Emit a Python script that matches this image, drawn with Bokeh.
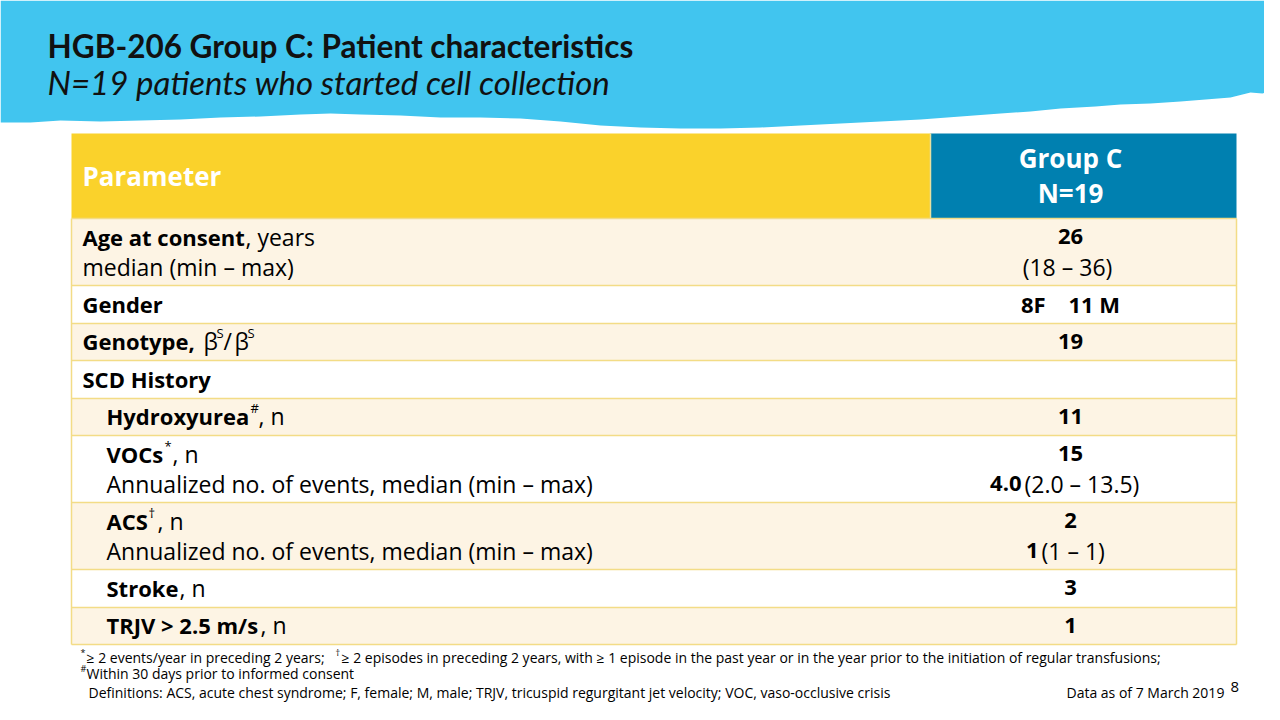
from bokeh.plotting import figure
from bokeh.models import Range1d, ColumnDataSource
from bokeh.core.properties import value
from bokeh.embed import file_html
from bokeh.resources import INLINE

# ---------------- data ----------------
title_text = "HGB-206 Group C: Patient characteristics"
subtitle_text = "N=19 patients who started cell collection"
header_param = "Parameter"
header_group = ["Group C", "N=19"]

# first line of each parameter cell: (text, style) runs
param_line1 = [
    [("Age at consent", "b"), (", years", "n")],
    [("Gender", "b")],
    [("Genotype,", "b"), ("β", "n"), ("S", "sup"), ("/", "n"), ("β", "n"), ("S", "sup")],
    [("SCD History", "b")],
    [("Hydroxyurea", "b"), ("#", "sup"), (", n", "n")],
    [("VOCs", "b"), ("*", "sup"), (", n", "n")],
    [("ACS", "b"), ("†", "sup"), (", n", "n")],
    [("Stroke", "b"), (", n", "n")],
    [("TRJV > 2.5 m/s", "b"), (", n", "n")],
]
param_line2 = ["median (min – max)", "", "", "", "",
               "Annualized no. of events, median (min – max)",
               "Annualized no. of events, median (min – max)", "", ""]
value_line1 = ["26", "8F    11 M", "19", "", "11", "15", "2", "3", "1"]
value_line2_bold = ["", "", "", "", "", "4.0", "1", "", ""]
value_line2_rest = ["(18 – 36)", "", "", "", "", "(2.0 – 13.5)", "(1 – 1)", "", ""]

foot1 = [("*", "sup"), ("≥ 2 events/year in preceding 2 years; ", "n"), ("†", "sup"),
         ("≥ 2 episodes in preceding 2 years, with ≥ 1 episode in the past year or in the year prior to the initiation of regular transfusions;", "n")]
foot2 = [("#", "sup"), ("Within 30 days prior to informed consent", "n")]
definitions = "Definitions: ACS, acute chest syndrome;  F, female; M, male; TRJV, tricuspid regurgitant jet velocity; VOC, vaso-occlusive crisis"
data_date = "Data as of 7 March 2019"
page_no = "8"

# ---------------- layout ----------------
row_top = [218, 285, 323, 360, 398, 435, 502, 569, 607]
row_bot = row_top[1:] + [644]
row_fill = ["#FDF4E4", "#FFFFFF", "#FDF4E4", "#FFFFFF", "#FDF4E4", "#FFFFFF", "#FDF4E4", "#FFFFFF", "#FDF4E4"]
run_x = [[82, 245], [82], [82, 203, 216, 223, 234, 247], [82], [106, 250, 258], [106, 164, 172],
         [106, 148, 157], [106, 179], [106, 260]]
line2_x = [82, 0, 0, 0, 0, 106, 106, 0, 0]
split_x = [0, 0, 0, 0, 0, 1021, 1038, 0, 0]
TL, TR, TM = 71, 1236, 930
VC = 1070
FONT = "Open Sans"
TFONT = "Lato"
BOLD = 22
REG = 23
SUP = 13

W, H = 1264, 704
p = figure(width=W, height=H, x_range=Range1d(0, W), y_range=Range1d(H, 0),
           output_backend="svg", toolbar_location=None, min_border=0)
p.axis.visible = False
p.grid.visible = False
p.outline_line_color = None
p.background_fill_color = "white"
p.border_fill_color = "white"


def txt(x, y, s, size, style="normal", color="#000000", align="left", baseline="middle", font=FONT):
    if not s:
        return
    src = ColumnDataSource(dict(x=[x], y=[y], t=[s]))
    p.text(x="x", y="y", text="t", source=src, text_font=value(font),
           text_font_size=f"{size}px", text_font_style=style, text_color=color,
           text_align=align, text_baseline=baseline)


def runs(xs, y, items, bsize=BOLD, nsize=REG, sup=SUP, off=8):
    for x, (s, st) in zip(xs, items):
        if st == "sup":
            txt(x, y - off, s, sup, "normal")
        elif st == "b":
            txt(x, y, s, bsize, "bold")
        else:
            txt(x, y, s, nsize, "normal")


# brushed blue band
edge = [(1280, 88), (1262, 93), (1250, 92), (1230, 97), (1205, 99), (1180, 101), (1150, 103),
        (1120, 104), (1095, 106), (1060, 108), (1030, 111), (1000, 113), (960, 116), (920, 119),
        (880, 121), (840, 123), (800, 125), (760, 127), (720, 128), (680, 128), (640, 127),
        (600, 125), (560, 121), (520, 118), (480, 117), (440, 117), (400, 115), (360, 114),
        (330, 113), (300, 114), (260, 116), (220, 117), (180, 119), (140, 120), (100, 121),
        (60, 120), (30, 122), (0, 122)]
bx = [0, 1280] + [e[0] for e in edge]
by = [0, 0] + [e[1] for e in edge]
p.patch(bx, by, fill_color="#41C5EF", line_color=None)

txt(47, 45, title_text, 31.5, "bold", "#111111", font=TFONT)
txt(47, 81, subtitle_text, 33, "italic", "#111111", font=TFONT)

# header
p.quad(left=[TL], right=[TM], top=[133], bottom=[218], fill_color="#FAD22B", line_color=None)
p.quad(left=[TM], right=[TR], top=[133], bottom=[218], fill_color="#0080B0", line_color=None)
p.segment(x0=[TM], y0=[133], x1=[TM], y1=[218], line_color="#E8E0A0", line_width=1.5)
txt(82, 175, header_param, 26, "bold", "#FFFFFF")
txt(VC, 157, header_group[0], 26, "bold", "#FFFFFF", "center")
txt(VC, 192, header_group[1], 26, "bold", "#FFFFFF", "center")

# body rows
p.quad(left=[TL] * len(row_top), right=[TR] * len(row_top), top=row_top, bottom=row_bot,
       fill_color=row_fill, line_color=None)
ys = row_top + [644]
p.segment(x0=[TL] * len(ys), y0=ys, x1=[TR] * len(ys), y1=ys, line_color="#F3DC86", line_width=1.5)
p.segment(x0=[TL, TR], y0=[218, 218], x1=[TL, TR], y1=[644, 644], line_color="#F3DC86", line_width=1.5)

for i in range(len(row_top)):
    two = bool(param_line2[i]) or bool(value_line2_rest[i])
    y1 = row_top[i] + 18 if two else (row_top[i] + row_bot[i]) / 2 - 1
    y2 = row_top[i] + 48
    runs(run_x[i], y1, param_line1[i])
    if param_line2[i]:
        txt(line2_x[i], y2, param_line2[i], REG)
    txt(VC, y1, value_line1[i].replace(" ", "\u00a0"), BOLD, "bold", align="center")
    if value_line2_bold[i]:
        txt(split_x[i], y2, value_line2_bold[i], BOLD, "bold", align="right")
        txt(split_x[i] + 3, y2, value_line2_rest[i], REG)
    elif value_line2_rest[i]:
        txt(VC - 3, y2, value_line2_rest[i], REG, align="center")

# footnotes
runs([80, 86, 335, 341], 657, foot1, nsize=14, sup=9, off=5)
runs([80, 86], 673, foot2, nsize=14, sup=9, off=5)
txt(88, 692, definitions, 14)
txt(1066, 692, data_date, 14)
txt(1230, 686, page_no, 15)

open("out.html", "w").write(file_html(p, INLINE))
